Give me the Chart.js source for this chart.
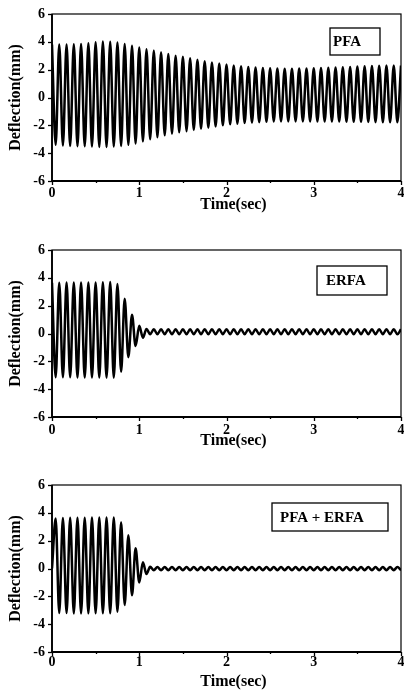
<!DOCTYPE html>
<html lang="en">
<head>
<meta charset="UTF-8" />
<title>Deflection</title>
<style>
  html, body { margin: 0; padding: 0; background: #fff; }
  .page { position: relative; width: 404px; height: 696px; overflow: hidden; }
  .panel { position: absolute; left: 0; width: 404px; height: 221px; }
</style>
</head>
<body>
<div class="page">
  <div class="panel" style="top:0px"><canvas id="pfa" width="404" height="221"></canvas></div>
  <div class="panel" style="top:236px"><canvas id="erfa" width="404" height="221"></canvas></div>
  <div class="panel" style="top:471px"><canvas id="both" width="404" height="221"></canvas></div>
</div>

<script src="https://cdn.jsdelivr.net/npm/chart.js"></script>

<script>
  // time of each read-off peak / trough (sec)
  const timeSec = [
    0, 0.042, 0.083, 0.125, 0.167, 0.208, 0.25, 0.292, 0.333, 0.375, 0.417, 0.458,
    0.5, 0.542, 0.583, 0.625, 0.667, 0.708, 0.75, 0.792, 0.833, 0.875, 0.917, 0.958,
    1, 1.042, 1.083, 1.125, 1.167, 1.208, 1.25, 1.292, 1.333, 1.375, 1.417, 1.458,
    1.5, 1.542, 1.583, 1.625, 1.667, 1.708, 1.75, 1.792, 1.833, 1.875, 1.917, 1.958,
    2, 2.042, 2.083, 2.125, 2.167, 2.208, 2.25, 2.292, 2.333, 2.375, 2.417, 2.458,
    2.5, 2.542, 2.583, 2.625, 2.667, 2.708, 2.75, 2.792, 2.833, 2.875, 2.917, 2.958,
    3, 3.042, 3.083, 3.125, 3.167, 3.208, 3.25, 3.292, 3.333, 3.375, 3.417, 3.458,
    3.5, 3.542, 3.583, 3.625, 3.667, 3.708, 3.75, 3.792, 3.833, 3.875, 3.917, 3.958,
    4,
  ];

  // deflection (mm) at those times
  const pfaDefl = [
    3.8, -3.4, 3.8, -3.45, 3.8, -3.48, 3.82, -3.5, 3.85, -3.5, 3.9, -3.52,
    3.97, -3.55, 4.03, -3.55, 4.0, -3.52, 3.95, -3.48, 3.85, -3.4, 3.72, -3.3,
    3.6, -3.15, 3.47, -3.0, 3.37, -2.85, 3.25, -2.72, 3.12, -2.6, 3.0, -2.5,
    2.92, -2.42, 2.82, -2.33, 2.72, -2.25, 2.6, -2.17, 2.52, -2.08, 2.45, -2.0,
    2.38, -1.93, 2.3, -1.88, 2.25, -1.83, 2.2, -1.8, 2.15, -1.77, 2.12, -1.75,
    2.1, -1.73, 2.08, -1.72, 2.07, -1.72, 2.07, -1.72, 2.08, -1.72, 2.08, -1.72,
    2.1, -1.72, 2.12, -1.72, 2.13, -1.73, 2.15, -1.73, 2.17, -1.74, 2.2, -1.75,
    2.22, -1.75, 2.25, -1.76, 2.27, -1.77, 2.28, -1.78, 2.3, -1.78, 2.3, -1.78,
    2.3,
  ];

  const erfaDefl = [
    3.65, -3.15, 3.65, -3.15, 3.66, -3.15, 3.67, -3.16, 3.67, -3.16, 3.67, -3.16,
    3.67, -3.16, 3.68, -3.17, 3.7, -3.17, 3.55, -2.75, 2.5, -1.7, 1.35, -0.9,
    0.55, -0.3, 0.32, -0.05, 0.3, -0.05, 0.3, -0.05, 0.3, -0.05, 0.3, -0.05,
    0.3, -0.05, 0.3, -0.05, 0.3, -0.05, 0.3, -0.05, 0.3, -0.05, 0.3, -0.05,
    0.3, -0.05, 0.3, -0.05, 0.3, -0.05, 0.3, -0.05, 0.3, -0.05, 0.3, -0.05,
    0.3, -0.05, 0.3, -0.05, 0.3, -0.05, 0.3, -0.05, 0.3, -0.05, 0.3, -0.05,
    0.3, -0.05, 0.3, -0.05, 0.3, -0.05, 0.3, -0.05, 0.3, -0.05, 0.3, -0.05,
    0.3, -0.05, 0.3, -0.05, 0.3, -0.05, 0.3, -0.05, 0.3, -0.05, 0.3, -0.05,
    0.3,
  ];

  const bothDefl = [
    0, 3.6, -3.2, 3.62, -3.2, 3.65, -3.22, 3.65, -3.22, 3.65, -3.22, 3.67,
    -3.22, 3.67, -3.22, 3.67, -3.22, 3.67, -3.1, 3.32, -2.62, 2.39, -1.92, 1.45,
    -1.0, 0.45, -0.4, 0.12, -0.12, 0.1, -0.12, 0.1, -0.12, 0.1, -0.12, 0.1,
    -0.12, 0.1, -0.12, 0.1, -0.12, 0.1, -0.12, 0.1, -0.12, 0.1, -0.12, 0.1,
    -0.12, 0.1, -0.12, 0.1, -0.12, 0.1, -0.12, 0.1, -0.12, 0.1, -0.12, 0.1,
    -0.12, 0.1, -0.12, 0.1, -0.12, 0.1, -0.12, 0.1, -0.12, 0.1, -0.12, 0.1,
    -0.12, 0.1, -0.12, 0.1, -0.12, 0.1, -0.12, 0.1, -0.12, 0.1, -0.12, 0.1,
    -0.12, 0.1, -0.12, 0.1, -0.12, 0.1, -0.12, 0.1, -0.12, 0.1, -0.12, 0.1,
    -0.12,
  ];

  const xTickLabels = [0, 1, 2, 3, 4];
  const yTickLabels = [-6, -4, -2, 0, 2, 4, 6];

  const serif = "'Liberation Serif', 'Times New Roman', serif";

  // box round the plot + outward tick marks (short ones are minor)
  const frameAndTicks = {
    id: "frameAndTicks",
    afterDatasetsDraw(chart) {
      const { ctx, chartArea: a, scales } = chart;
      ctx.save();
      ctx.strokeStyle = "#000";
      ctx.lineWidth = 1.3;
      scales.y.ticks.forEach((t) => {
        const py = Math.round(scales.y.getPixelForValue(t.value)) + 0.5;
        const len = yTickLabels.includes(t.value) ? 4 : 2;
        ctx.beginPath();
        ctx.moveTo(a.left - len, py);
        ctx.lineTo(a.left, py);
        ctx.stroke();
      });
      scales.x.ticks.forEach((t) => {
        const px = Math.round(scales.x.getPixelForValue(t.value)) + 0.5;
        const len = xTickLabels.includes(t.value) ? 4 : 2;
        ctx.beginPath();
        ctx.moveTo(px, a.bottom);
        ctx.lineTo(px, a.bottom + len);
        ctx.stroke();
      });
      ctx.lineWidth = 1.2;
      ctx.strokeRect(a.left, a.top, a.right - a.left, a.bottom - a.top);
      ctx.lineWidth = 1.8;
      ctx.beginPath();
      ctx.moveTo(a.left, a.top);
      ctx.lineTo(a.left, a.bottom);
      ctx.lineTo(a.right, a.bottom);
      ctx.stroke();
      ctx.restore();
    },
  };

  // boxed series name + "Time(sec)" under the axis (sits a bit right of centre)
  const tagBox = {
    id: "tagBox",
    afterDraw(chart, args, opts) {
      const { ctx, chartArea: a } = chart;
      const x = a.right - opts.right - opts.w;
      const y = a.top + opts.top;
      ctx.save();
      ctx.fillStyle = "#fff";
      ctx.fillRect(x, y, opts.w, opts.h);
      ctx.strokeStyle = "#000";
      ctx.lineWidth = 1.3;
      ctx.strokeRect(x, y, opts.w, opts.h);
      ctx.fillStyle = "#000";
      ctx.font = "bold 15px " + serif;
      ctx.textBaseline = "middle";
      ctx.fillText(opts.text, x + opts.pad, y + opts.h / 2 + 1);

      ctx.font = "bold 16px " + serif;
      ctx.textAlign = "center";
      ctx.fillText("Time(sec)", (a.left + a.right) / 2 + 7, a.bottom + opts.titleDy);
      ctx.restore();
    },
  };

  function renderPanel(id, values, tag, tickPad) {
    return new Chart(document.getElementById(id), {
      type: "line",
      data: {
        datasets: [
          {
            data: timeSec.map((t, i) => ({ x: t, y: values[i] })),
            borderColor: "#000",
            borderWidth: 2.5,
            pointRadius: 0,
            cubicInterpolationMode: "monotone",
            fill: false,
          },
        ],
      },
      options: {
        responsive: false,
        animation: false,
        events: [],
        layout: { padding: { top: 9, right: 3, left: 0, bottom: 0 } },
        plugins: {
          legend: { display: false },
          tooltip: { enabled: false },
          tagBox: tag,
        },
        scales: {
          x: {
            type: "linear",
            min: 0,
            max: 4,
            grid: { display: false, drawTicks: false },
            border: { display: false },
            afterFit: (scale) => {
              scale.height = 40;
              scale.paddingLeft = 0;
              scale.paddingRight = 0;
            },
            ticks: {
              stepSize: 0.5,
              autoSkip: false,
              maxRotation: 0,
              padding: tickPad,
              color: "#000",
              font: { family: serif, size: 14, weight: "bold", lineHeight: 1 },
              callback: (v) => (xTickLabels.includes(v) ? String(v) : ""),
            },
          },
          y: {
            min: -6,
            max: 6,
            grid: { display: false, drawTicks: false },
            border: { display: false },
            afterFit: (scale) => {
              scale.width = 52;
            },
            ticks: {
              stepSize: 1,
              padding: 7,
              color: "#000",
              font: { family: serif, size: 14, weight: "bold", lineHeight: 1 },
              callback: (v) => (yTickLabels.includes(v) ? String(v) : ""),
            },
            title: {
              display: true,
              text: "Deflection(mm)",
              color: "#000",
              font: { family: serif, size: 16, weight: "bold", lineHeight: 1 },
              padding: { top: 8, bottom: 0 },
            },
          },
        },
      },
      plugins: [frameAndTicks, tagBox],
    });
  }

  renderPanel("pfa", pfaDefl, { text: "PFA", w: 50, h: 27, right: 21, top: 14, pad: 3, titleDy: 24 }, 5.5);
  renderPanel("erfa", erfaDefl, { text: "ERFA", w: 70, h: 29, right: 14, top: 16, pad: 9, titleDy: 24 }, 6.5);
  renderPanel("both", bothDefl, { text: "PFA + ERFA", w: 116, h: 28, right: 13, top: 18, pad: 8, titleDy: 30 }, 3.5);
</script>
</body>
</html>
